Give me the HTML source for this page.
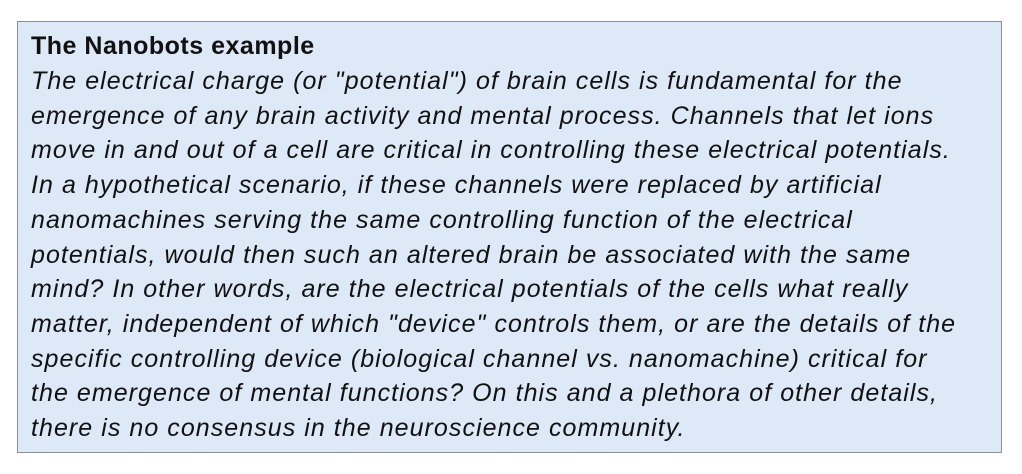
<!DOCTYPE html>
<html><head><meta charset="utf-8"><style>
html,body{margin:0;padding:0;background:#fff;width:1022px;height:474px;overflow:hidden}
.box{position:absolute;left:17px;top:21px;width:985px;height:432px;background:#dde9f6;border:1.5px solid #8c9096;box-sizing:border-box}
.t{position:absolute;left:13px;top:1.5px;font-family:"Liberation Sans",sans-serif;font-size:25px;color:#111;white-space:nowrap}
.l{position:absolute;left:0;line-height:1;}
b.l{font-weight:bold;font-size:25px;letter-spacing:0.5px}
i.l{font-style:italic;letter-spacing:1.05px}
</style></head><body>
<div class="box"><div class="t">
<b class="l" style="top:10.5px">The Nanobots example</b>
<i class="l" style="top:45.5px">The electrical charge (or "potential") of brain cells is fundamental for the</i>
<i class="l" style="top:80.2px">emergence of any brain activity and mental process. Channels that let ions</i>
<i class="l" style="top:114.9px">move in and out of a cell are critical in controlling these electrical potentials.</i>
<i class="l" style="top:149.6px">In a hypothetical scenario, if these channels were replaced by artificial</i>
<i class="l" style="top:184.3px">nanomachines serving the same controlling function of the electrical</i>
<i class="l" style="top:219px">potentials, would then such an altered brain be associated with the same</i>
<i class="l" style="top:253.7px">mind? In other words, are the electrical potentials of the cells what really</i>
<i class="l" style="top:288.4px">matter, independent of which "device" controls them, or are the details of the</i>
<i class="l" style="top:323.1px">specific controlling device (biological channel vs. nanomachine) critical for</i>
<i class="l" style="top:357.8px">the emergence of mental functions? On this and a plethora of other details,</i>
<i class="l" style="top:392.5px">there is no consensus in the neuroscience community.</i>
</div></div>
</body></html>
